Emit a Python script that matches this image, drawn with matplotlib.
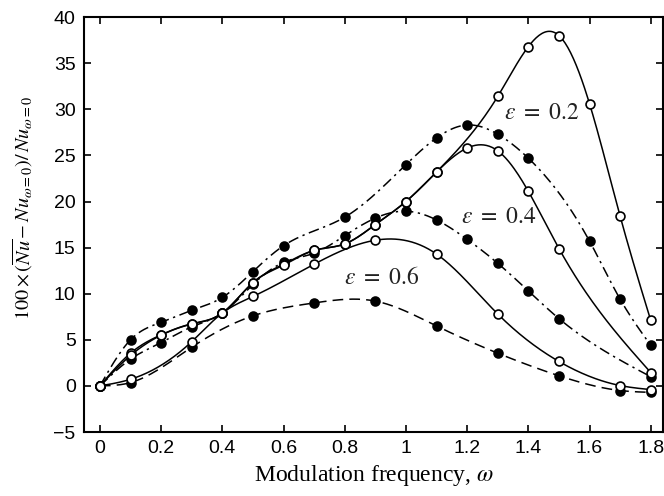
import numpy as np
import matplotlib
matplotlib.use("Agg")
import matplotlib.pyplot as plt

plt.rcParams['mathtext.fontset'] = 'stix'
plt.rcParams['font.family'] = ['Liberation Sans', 'DejaVu Sans']

# ---- data ----
# eps = 0.2, open circles, solid
x_o2 = [0, 0.1, 0.2, 0.3, 0.4, 0.5, 0.6, 0.7, 0.8, 0.9, 1.0, 1.1, 1.3, 1.4, 1.5, 1.6, 1.7, 1.8]
y_o2 = [0, 3.3, 5.5, 6.7, 7.9, 11.2, 13.1, 14.7, 15.4, 17.5, 20.0, 23.2, 31.4, 36.8, 38.0, 30.6, 18.4, 7.1]
# eps = 0.2, filled circles, dash-dot
x_f2 = [0, 0.1, 0.2, 0.3, 0.4, 0.5, 0.6, 0.8, 1.0, 1.1, 1.2, 1.3, 1.4, 1.6, 1.7, 1.8]
y_f2 = [0, 5.0, 6.9, 8.2, 9.6, 12.4, 15.2, 18.3, 24.0, 26.9, 28.3, 27.3, 24.7, 15.7, 9.4, 4.4]
# eps = 0.4, open circles, solid
x_o4 = [0, 0.1, 0.2, 0.3, 0.4, 0.5, 0.6, 0.7, 0.8, 0.9, 1.0, 1.1, 1.2, 1.3, 1.4, 1.5, 1.8]
y_o4 = [0, 3.55, 5.54, 6.74, 7.9, 11.2, 13.2, 14.7, 15.4, 17.5, 20.0, 23.2, 25.8, 25.5, 21.1, 14.9, 1.45]
# eps = 0.4, filled circles, dash-dot
x_f4 = [0, 0.1, 0.2, 0.3, 0.4, 0.5, 0.6, 0.7, 0.8, 0.9, 1.0, 1.1, 1.2, 1.3, 1.4, 1.5, 1.8]
y_f4 = [0, 2.9, 4.7, 6.4, 7.9, 11.0, 13.4, 14.4, 16.3, 18.2, 18.95, 18.0, 15.9, 13.3, 10.3, 7.3, 1.0]
# eps = 0.6, open circles, solid
x_o6 = [0, 0.1, 0.3, 0.4, 0.5, 0.7, 0.9, 1.1, 1.3, 1.5, 1.7, 1.8]
y_o6 = [0, 0.72, 4.8, 7.9, 9.7, 13.2, 15.8, 14.3, 7.8, 2.65, 0.04, -0.4]
# eps = 0.6, filled circles, dashed
x_f6 = [0, 0.1, 0.3, 0.5, 0.7, 0.9, 1.1, 1.3, 1.5, 1.7, 1.8]
y_f6 = [0, 0.36, 4.2, 7.6, 9.0, 9.2, 6.5, 3.55, 1.1, -0.5, -0.7]

xticks = [0, 0.2, 0.4, 0.6, 0.8, 1.0, 1.2, 1.4, 1.6, 1.8]
xticklabels = ['0', '0.2', '0.4', '0.6', '0.8', '1', '1.2', '1.4', '1.6', '1.8']
yticks = [-5, 0, 5, 10, 15, 20, 25, 30, 35, 40]
labels = [r'$\epsilon\ =\ 0.2$', r'$\epsilon\ =\ 0.4$', r'$\epsilon\ =\ 0.6$']
label_pos = [(1.445, 29.6), (1.305, 18.3), (0.92, 11.7)]


def natural_spline(x, y, xs):
    x = np.asarray(x, float)
    y = np.asarray(y, float)
    n = len(x)
    h = np.diff(x)
    A = np.zeros((n, n))
    b = np.zeros(n)
    A[0, 0] = 1
    A[-1, -1] = 1
    for i in range(1, n - 1):
        A[i, i - 1] = h[i - 1]
        A[i, i] = 2 * (h[i - 1] + h[i])
        A[i, i + 1] = h[i]
        b[i] = 3 * ((y[i + 1] - y[i]) / h[i] - (y[i] - y[i - 1]) / h[i - 1])
    c = np.linalg.solve(A, b)
    bb = (y[1:] - y[:-1]) / h - h * (2 * c[:-1] + c[1:]) / 3
    d = (c[1:] - c[:-1]) / (3 * h)
    idx = np.clip(np.searchsorted(x, xs) - 1, 0, n - 2)
    dx = xs - x[idx]
    return y[idx] + bb[idx] * dx + c[idx] * dx ** 2 + d[idx] * dx ** 3


fig = plt.figure(figsize=(6.64, 4.96), dpi=100)
ax = fig.add_axes([0.1265, 0.129, 0.872, 0.8365])

dashdot = (0, (7, 3, 1.5, 3))
dashed = (0, (7, 4))
series = [
    (x_f6, y_f6, dashed, 'k'),
    (x_o6, y_o6, '-', 'w'),
    (x_f4, y_f4, dashdot, 'k'),
    (x_o4, y_o4, '-', 'w'),
    (x_f2, y_f2, dashdot, 'k'),
    (x_o2, y_o2, '-', 'w'),
]
for xs_, ys_, ls, face in series:
    xf = np.linspace(xs_[0], xs_[-1], 400)
    yf = natural_spline(xs_, ys_, xf)
    ax.plot(xf, yf, color='k', linestyle=ls, linewidth=1.1, zorder=2)
for xs_, ys_, ls, face in series:
    ax.plot(xs_, ys_, linestyle='none', marker='o', markersize=6.4,
            markerfacecolor=face, markeredgecolor='k', markeredgewidth=1.2, zorder=3)

for lab, (lx, ly) in zip(labels, label_pos):
    ax.text(lx, ly, lab, fontsize=17, ha='center', va='center', color='#222222')

ax.set_xlim(-0.052, 1.84)
ax.set_ylim(-5, 40)
ax.set_xticks(xticks)
ax.set_xticklabels(xticklabels)
ax.set_yticks(yticks)
ax.tick_params(direction='in', length=5, width=1.2, top=True, right=True,
               labelsize=14, pad=6)
for s in ax.spines.values():
    s.set_linewidth(1.5)

ax.set_xlabel(r'Modulation frequency, $\omega$', fontsize=17,
              family=['Liberation Serif'], labelpad=4)
ax.set_ylabel(r'$100 \times (\overline{Nu} - Nu_{\omega=0})/\,Nu_{\omega=0}$', fontsize=14.5,
              labelpad=6)
ax.yaxis.set_label_coords(-0.085, 0.54)

fig.savefig('out.png', dpi=100)
